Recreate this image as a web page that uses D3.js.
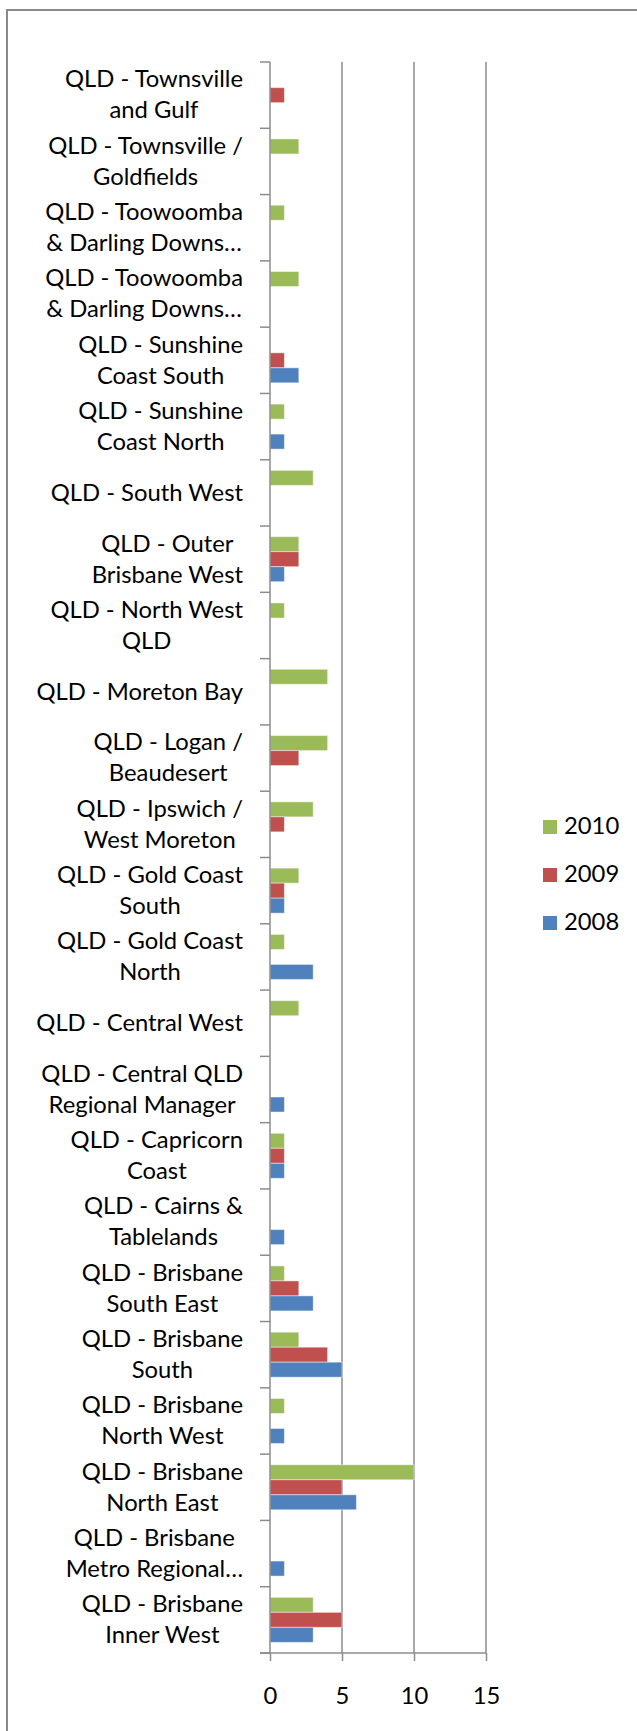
<!DOCTYPE html>
<html><head><meta charset="utf-8">
<script src="https://cdn.jsdelivr.net/npm/d3@7"></script>
<style>body{margin:0;background:#fff;overflow:hidden}</style>
</head><body>
<script>
// Categories, top to bottom as drawn ("\n" = line break in label)
const categories = [
  "QLD - Townsville\nand Gulf",
  "QLD - Townsville /\nGoldfields",
  "QLD - Toowoomba\n& Darling Downs…",
  "QLD - Toowoomba \n& Darling Downs… ",
  "QLD - Sunshine\nCoast South",
  "QLD - Sunshine\nCoast North",
  "QLD - South West",
  "QLD - Outer\nBrisbane West",
  "QLD - North West\nQLD",
  "QLD - Moreton Bay",
  "QLD - Logan /\nBeaudesert",
  "QLD - Ipswich /\nWest Moreton",
  "QLD - Gold Coast\nSouth",
  "QLD - Gold Coast\nNorth",
  "QLD - Central West",
  "QLD - Central QLD\nRegional Manager",
  "QLD - Capricorn\nCoast",
  "QLD - Cairns &\nTablelands",
  "QLD - Brisbane\nSouth East",
  "QLD - Brisbane\nSouth",
  "QLD - Brisbane\nNorth West",
  "QLD - Brisbane\nNorth East",
  "QLD - Brisbane\nMetro Regional…",
  "QLD - Brisbane\nInner West"
];
const seriesNames = ["2010", "2009", "2008"];
const values2010 = [0,2,1,2,0,1,3,2,1,4,4,3,2,1,2,0,1,0,1,2,1,10,0,3];
const values2009 = [1,0,0,0,1,0,0,2,0,0,2,1,1,0,0,0,1,0,2,4,0,5,0,5];
const values2008 = [0,0,0,0,2,1,0,1,0,0,0,0,1,3,0,1,1,1,3,5,1,6,1,3];
const xTickValues = [0, 5, 10, 15];
const seriesColors = ["#9BBB59", "#C0504D", "#4F81BD"];

const W = 637, H = 1731;
const svg = d3.select("body").append("svg").attr("width", W).attr("height", H)
  .style("display","block");
svg.append("rect").attr("width", W).attr("height", H).attr("fill", "#fff");

const FONT = "Lato, 'Liberation Sans', sans-serif";
// calibrate font size so label text widths resemble the reference
const probe = svg.append("text").attr("font-family", FONT).attr("font-size", 100).text("QLD - Brisbane");
const pw = probe.node().getComputedTextLength();
probe.remove();
const fs = Math.round(100 * 161 / pw * 10) / 10;

// outer chart border
svg.append("rect").attr("x", 7).attr("y", 10).attr("width", W + 20).attr("height", H + 20)
  .attr("fill", "none").attr("stroke", "#8a8a8a").attr("stroke-width", 2);

const plotLeft = 270, plotRight = 486, plotTop = 62, plotBottom = 1653;
const x = d3.scaleLinear().domain([0, 15]).range([plotLeft, plotRight]);
const y = d3.scaleBand().domain(categories).range([plotTop, plotBottom]).padding(0);
const yInner = d3.scaleBand().domain(seriesNames).range([0, y.bandwidth()])
  .paddingInner(0).paddingOuter(0.71);

const gridColor = "#8c8c8c";
// gridlines
svg.append("g").selectAll("line").data(xTickValues.filter(d => d > 0)).join("line")
  .attr("x1", d => x(d)).attr("x2", d => x(d))
  .attr("y1", plotTop).attr("y2", plotBottom)
  .attr("stroke", gridColor).attr("stroke-width", 1.5);

// bars
const seriesData = [values2010, values2009, values2008];
seriesNames.forEach((s, si) => {
  svg.append("g").selectAll("rect")
    .data(categories.map((c, i) => ({c, v: seriesData[si][i]})).filter(d => d.v > 0))
    .join("rect")
    .attr("x", x(0))
    .attr("y", d => y(d.c) + yInner(s))
    .attr("width", d => x(d.v) - x(0))
    .attr("height", yInner.bandwidth())
    .attr("fill", seriesColors[si])
    .attr("stroke", "rgba(255,255,255,0.45)")
    .attr("stroke-width", 1);
});

// y axis line and tick marks at category boundaries
svg.append("line").attr("x1", plotLeft).attr("x2", plotLeft)
  .attr("y1", plotTop).attr("y2", plotBottom).attr("stroke", gridColor).attr("stroke-width", 1.5);
const boundaries = categories.map(c => y(c)).concat([plotBottom]);
svg.append("g").selectAll("line").data(boundaries).join("line")
  .attr("x1", plotLeft - 10).attr("x2", plotLeft)
  .attr("y1", d => d).attr("y2", d => d)
  .attr("stroke", gridColor).attr("stroke-width", 1.5);

// x axis
const xAxis = d3.axisBottom(x).tickValues(xTickValues).tickSize(8).tickPadding(25);
const gx = svg.append("g").attr("transform", `translate(0,${plotBottom})`).call(xAxis);
gx.select(".domain").remove();
gx.selectAll(".tick line").attr("stroke", gridColor).attr("stroke-width", 1.5);
gx.selectAll(".tick text").attr("font-family", FONT).attr("font-size", fs).attr("fill", "#000")
  .attr("dy", null).attr("y", 51);
svg.append("line").attr("x1", plotLeft - 10).attr("x2", plotRight)
  .attr("y1", plotBottom).attr("y2", plotBottom).attr("stroke", gridColor).attr("stroke-width", 1.5);

// category labels
const lineH = 31, labelRight = 243;
categories.forEach(c => {
  const lines = c.split("\n");
  const g = svg.append("g");
  const texts = lines.map(l => g.append("text").attr("font-family", FONT).attr("font-size", fs)
    .attr("fill", "#000").attr("text-anchor", "middle").text(l.trim()));
  const widths = texts.map(t => t.node().getComputedTextLength());
  const blockW = d3.max(widths);
  const cx = labelRight - blockW / 2;
  const cy = y(c) + y.bandwidth() / 2;
  const capH = fs * 0.66;
  const firstBase = cy + capH / 2 - (lines.length - 1) * lineH / 2;
  texts.forEach((t, i) => t.attr("x", cx).attr("y", firstBase + i * lineH));
});

// legend
const legendY = d3.scalePoint().domain(seriesNames).range([820, 916]);
const lg = svg.append("g");
seriesNames.forEach((s, si) => {
  lg.append("rect").attr("x", 543).attr("y", legendY(s)).attr("width", 14).attr("height", 14)
    .attr("fill", seriesColors[si]);
  lg.append("text").attr("x", 564).attr("y", legendY(s) + 14).attr("font-family", FONT)
    .attr("font-size", fs).attr("fill", "#000").text(s);
});
</script>
</body></html>
